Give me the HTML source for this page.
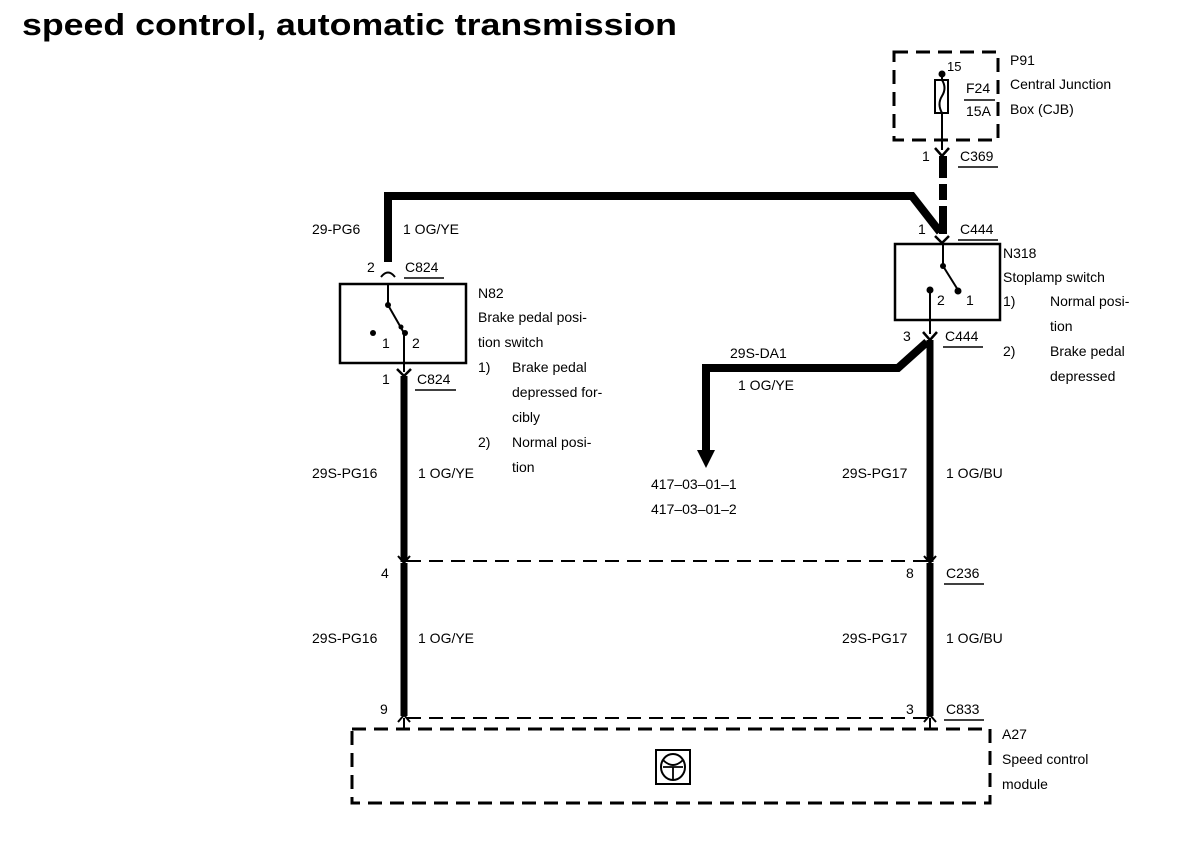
<!DOCTYPE html>
<html><head><meta charset="utf-8"><style>
html,body{margin:0;padding:0;background:#fff;}
svg{display:block;}
text{font-family:"Liberation Sans",Arial,sans-serif;font-size:14px;fill:#000;}
</style></head><body>
<svg width="1200" height="846" viewBox="0 0 1200 846" xmlns="http://www.w3.org/2000/svg">
<text x="22" y="35" textLength="655" lengthAdjust="spacingAndGlyphs" style="font-size:31px;font-weight:bold">speed control, automatic transmission</text>

<!-- P91 box -->
<rect x="894" y="52" width="104" height="88" fill="none" stroke="#000" stroke-width="3" stroke-dasharray="14,8"/>
<rect x="935" y="80" width="13" height="33" fill="none" stroke="#000" stroke-width="2"/>
<path d="M942 80 q5 8 0 16 q-5 8 0 17" fill="none" stroke="#000" stroke-width="2"/>
<circle cx="942" cy="74" r="3.5"/>
<line x1="942" y1="74" x2="942" y2="80" stroke="#000" stroke-width="2"/>
<line x1="942" y1="113" x2="942" y2="150" stroke="#000" stroke-width="2"/>
<text x="947" y="71" style="font-size:13px">15</text>
<text x="966" y="93">F24</text>
<line x1="964" y1="100" x2="995" y2="100" stroke="#000" stroke-width="1.5"/>
<text x="966" y="116">15A</text>
<text x="1010" y="65">P91</text>
<text x="1010" y="89">Central Junction</text>
<text x="1010" y="114">Box (CJB)</text>

<!-- C369 -->
<path d="M935 148 L942 156 L949 148" fill="none" stroke="#000" stroke-width="2.5"/>
<text x="922" y="161">1</text>
<text x="960" y="161">C369</text>
<line x1="958" y1="167" x2="998" y2="167" stroke="#000" stroke-width="1.5"/>
<line x1="943" y1="156" x2="943" y2="178" stroke="#000" stroke-width="8"/>
<line x1="943" y1="184" x2="943" y2="200" stroke="#000" stroke-width="8"/>
<line x1="943" y1="206" x2="943" y2="234" stroke="#000" stroke-width="8"/>

<!-- top horizontal -->
<path d="M388 262 L388 196 L912 196 L940 232" fill="none" stroke="#000" stroke-width="8"/>
<path d="M935 236 L942 243 L949 236" fill="none" stroke="#000" stroke-width="2.5"/>
<text x="918" y="234">1</text>
<text x="960" y="234">C444</text>
<line x1="958" y1="240" x2="998" y2="240" stroke="#000" stroke-width="1.5"/>

<!-- N318 -->
<rect x="895" y="244" width="105" height="76" fill="none" stroke="#000" stroke-width="2.5"/>
<line x1="943" y1="244" x2="943" y2="265" stroke="#000" stroke-width="2"/>
<circle cx="943" cy="266" r="3"/>
<line x1="943" y1="266" x2="958" y2="290" stroke="#000" stroke-width="2"/>
<circle cx="958" cy="291" r="3.5"/>
<circle cx="930" cy="290" r="3.5"/>
<line x1="930" y1="290" x2="930" y2="334" stroke="#000" stroke-width="2"/>
<text x="937" y="305">2</text>
<text x="966" y="305">1</text>
<text x="1003" y="258">N318</text>
<text x="1003" y="282">Stoplamp switch</text>
<text x="1003" y="306">1)</text><text x="1050" y="306">Normal posi-</text>
<text x="1050" y="331">tion</text>
<text x="1003" y="356">2)</text><text x="1050" y="356">Brake pedal</text>
<text x="1050" y="381">depressed</text>
<path d="M923 332 L930 340 L937 332" fill="none" stroke="#000" stroke-width="2.5"/>
<text x="903" y="341">3</text>
<text x="945" y="341">C444</text>
<line x1="943" y1="347" x2="983" y2="347" stroke="#000" stroke-width="1.5"/>
<line x1="930" y1="340" x2="930" y2="562" stroke="#000" stroke-width="7"/>

<!-- branch -->
<path d="M927 342 L898 368 L706 368 L706 452" fill="none" stroke="#000" stroke-width="8"/>
<polygon points="697,450 715,450 706,468"/>
<text x="730" y="358">29S-DA1</text>
<text x="738" y="390">1 OG/YE</text>
<text x="651" y="489">417–03–01–1</text>
<text x="651" y="514">417–03–01–2</text>
<text x="842" y="478">29S-PG17</text>
<text x="946" y="478">1 OG/BU</text>

<!-- left -->
<text x="312" y="234">29-PG6</text>
<text x="403" y="234">1 OG/YE</text>
<text x="367" y="272">2</text>
<text x="405" y="272">C824</text>
<line x1="404" y1="278" x2="444" y2="278" stroke="#000" stroke-width="1.5"/>
<path d="M381 277 Q388 268 395 277" fill="none" stroke="#000" stroke-width="2"/>
<rect x="340" y="284" width="126" height="79" fill="none" stroke="#000" stroke-width="2.5"/>
<line x1="388" y1="284" x2="388" y2="305" stroke="#000" stroke-width="2"/>
<circle cx="388" cy="305" r="3"/>
<line x1="388" y1="305" x2="404" y2="333" stroke="#000" stroke-width="2"/>
<circle cx="401" cy="327" r="2.5"/>
<circle cx="405" cy="333" r="3"/>
<line x1="404" y1="333" x2="404" y2="372" stroke="#000" stroke-width="2"/>
<circle cx="373" cy="333" r="3"/>
<text x="382" y="348">1</text>
<text x="412" y="348">2</text>
<path d="M397 369 L404 376 L411 369" fill="none" stroke="#000" stroke-width="2.5"/>
<text x="382" y="384">1</text>
<text x="417" y="384">C824</text>
<line x1="415" y1="390" x2="456" y2="390" stroke="#000" stroke-width="1.5"/>
<line x1="404" y1="376" x2="404" y2="562" stroke="#000" stroke-width="7"/>
<text x="478" y="298">N82</text>
<text x="478" y="322">Brake pedal posi-</text>
<text x="478" y="347">tion switch</text>
<text x="478" y="372">1)</text><text x="512" y="372">Brake pedal</text>
<text x="512" y="397">depressed for-</text>
<text x="512" y="422">cibly</text>
<text x="478" y="447">2)</text><text x="512" y="447">Normal posi-</text>
<text x="512" y="472">tion</text>
<text x="312" y="478">29S-PG16</text>
<text x="418" y="478">1 OG/YE</text>

<!-- C236/C833 dashed -->
<path d="M398 556 L404 563 L410 556" fill="none" stroke="#000" stroke-width="2"/>
<path d="M924 556 L930 563 L936 556" fill="none" stroke="#000" stroke-width="2"/>
<line x1="407" y1="561" x2="927" y2="561" stroke="#000" stroke-width="2" stroke-dasharray="14,8"/>
<line x1="407" y1="718" x2="927" y2="718" stroke="#000" stroke-width="2" stroke-dasharray="14,8"/>
<line x1="404" y1="563" x2="404" y2="716" stroke="#000" stroke-width="7"/>
<line x1="930" y1="563" x2="930" y2="716" stroke="#000" stroke-width="7"/>
<path d="M398 722 L404 715 L410 722" fill="none" stroke="#000" stroke-width="2"/>
<path d="M924 722 L930 715 L936 722" fill="none" stroke="#000" stroke-width="2"/>
<line x1="404" y1="718" x2="404" y2="730" stroke="#000" stroke-width="2"/>
<line x1="930" y1="718" x2="930" y2="730" stroke="#000" stroke-width="2"/>
<text x="381" y="578">4</text>
<text x="906" y="578">8</text>
<text x="946" y="578">C236</text>
<line x1="944" y1="584" x2="984" y2="584" stroke="#000" stroke-width="1.5"/>
<text x="312" y="643">29S-PG16</text>
<text x="418" y="643">1 OG/YE</text>
<text x="842" y="643">29S-PG17</text>
<text x="946" y="643">1 OG/BU</text>
<text x="380" y="714">9</text>
<text x="906" y="714">3</text>
<text x="946" y="714">C833</text>
<line x1="944" y1="720" x2="984" y2="720" stroke="#000" stroke-width="1.5"/>

<!-- A27 -->
<rect x="352" y="729" width="638" height="74" fill="none" stroke="#000" stroke-width="3" stroke-dasharray="14,8"/>
<rect x="656" y="750" width="34" height="34" fill="none" stroke="#000" stroke-width="2"/>
<ellipse cx="673" cy="767" rx="12" ry="13" fill="none" stroke="#000" stroke-width="2"/>
<path d="M663 760 Q673 770 683 760 M663 767 L683 767 M673 767 L673 780" fill="none" stroke="#000" stroke-width="1.8"/>
<text x="1002" y="739">A27</text>
<text x="1002" y="764">Speed control</text>
<text x="1002" y="789">module</text>
</svg>
</body></html>
